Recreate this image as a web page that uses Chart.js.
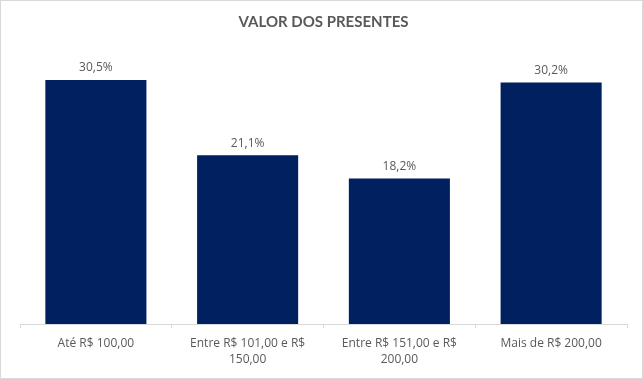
<!DOCTYPE html>
<html>
<head>
<meta charset="utf-8">
<script src="https://cdn.jsdelivr.net/npm/chart.js@4.4.0/dist/chart.umd.min.js"></script>
<style>
  html, body { margin: 0; padding: 0; background: #fff; }
  #wrap { width: 643px; height: 379px; }
</style>
</head>
<body>
<div id="wrap"><canvas id="grafico" width="643" height="379"></canvas></div>
<script>
// dados do grafico
const categorias = [
  "Até R$ 100,00",
  ["Entre R$ 101,00 e R$", "150,00"],
  ["Entre R$ 151,00 e R$", "200,00"],
  "Mais de R$ 200,00",
];
const valores = [30.5, 21.1, 18.2, 30.2];

const fonte = "'Open Sans', 'Liberation Sans', sans-serif";

// rotulos em cima das barras
const rotulos = {
  id: "rotulos",
  afterDatasetsDraw(chart) {
    const ctx = chart.ctx;
    const meta = chart.getDatasetMeta(0);
    ctx.save();
    ctx.font = "12px " + fonte;
    ctx.fillStyle = "#595959";
    ctx.textAlign = "center";
    ctx.textBaseline = "middle";
    meta.data.forEach((bar, i) => {
      const txt = valores[i].toFixed(1).replace(".", ",") + "%";
      ctx.fillText(txt, bar.x, bar.y - 12);
    });
    ctx.restore();
  },
};

// borda do grafico
const borda = {
  id: "borda",
  afterDraw(chart) {
    const ctx = chart.ctx;
    ctx.save();
    ctx.strokeStyle = "#d9d9d9";
    ctx.lineWidth = 1;
    ctx.strokeRect(0.5, 0.5, chart.width - 1, chart.height - 1);
    ctx.restore();
  },
};

new Chart(document.getElementById("grafico"), {
  type: "bar",
  data: {
    labels: categorias,
    datasets: [
      {
        data: valores,
        backgroundColor: "#002060",
        categoryPercentage: 1,
        barPercentage: 0.666,
      },
    ],
  },
  options: {
    responsive: false,
    animation: false,
    layout: { padding: { left: 20, right: 16, bottom: 3 } },
    plugins: {
      legend: { display: false },
      tooltip: { enabled: false },
      title: {
        display: true,
        text: "VALOR DOS PRESENTES",
        color: "#595959",
        font: { family: "Lato, sans-serif", size: 15, weight: "bold" },
        padding: { top: 13, bottom: 13 },
      },
    },
    scales: {
      y: { display: false, min: 0, max: 35 },
      x: {
        offset: true,
        grid: {
          offset: true,
          drawOnChartArea: false,
          tickLength: 4,
          color: "#d9d9d9",
        },
        border: { color: "#d9d9d9" },
        ticks: {
          color: "#595959",
          padding: 8,
          maxRotation: 0,
          autoSkip: false,
          font: { family: fonte, size: 12, lineHeight: 1.33 },
        },
      },
    },
  },
  plugins: [rotulos, borda],
});
</script>
</body>
</html>
